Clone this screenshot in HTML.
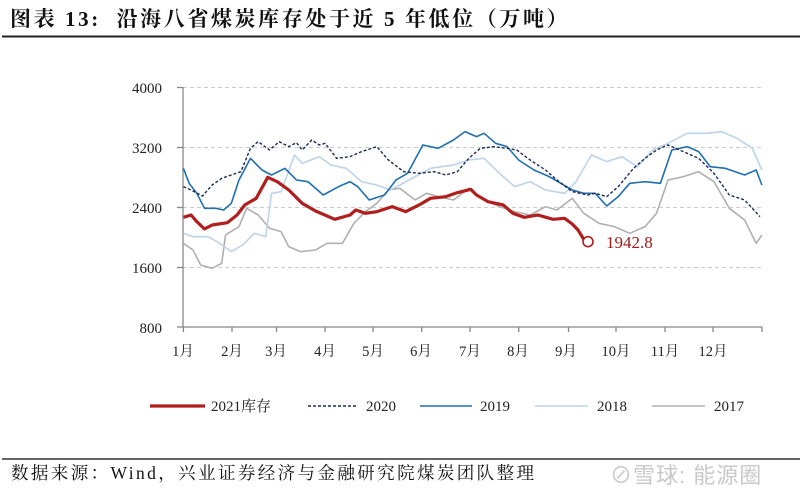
<!DOCTYPE html>
<html><head><meta charset="utf-8"><style>
body{margin:0;background:#fff;width:800px;height:502px;overflow:hidden;position:relative;font-family:"Liberation Serif","Noto Serif CJK SC",serif}
.t{position:absolute;left:10px;top:3px;font-size:21px;letter-spacing:2.6px;font-weight:bold;color:#111;white-space:nowrap}
.s{position:absolute;left:11px;top:460px;font-size:17.5px;letter-spacing:2.4px;color:#111;white-space:nowrap}
.w{position:absolute;left:610px;top:458px;font-size:22px;letter-spacing:1px;color:#c8c8c8;font-family:"Liberation Sans","Noto Sans CJK SC",sans-serif;white-space:nowrap}
</style></head><body>
<div class="t">图表 13:&nbsp; 沿海八省煤炭库存处于近 5 年低位（万吨）</div>
<div class="s">数据来源：Wind，兴业证券经济与金融研究院煤炭团队整理</div>
<div class="w">⊘雪球: 能源圈</div>
<svg width="800" height="502" style="position:absolute;left:0;top:0">
<line x1="2" y1="36.5" x2="800" y2="36.5" stroke="#222" stroke-width="2"/>
<line x1="2" y1="459" x2="800" y2="459" stroke="#333" stroke-width="1.5"/>
<g stroke="#ccc" stroke-dasharray="4,3" stroke-width="1">
<line x1="183" y1="87.5" x2="762" y2="87.5"/><line x1="183" y1="147.5" x2="762" y2="147.5"/>
<line x1="183" y1="207.5" x2="762" y2="207.5"/><line x1="183" y1="267.5" x2="762" y2="267.5"/>
</g>
<g stroke="#888" stroke-width="1.3">
<line x1="183" y1="87" x2="183" y2="327"/><line x1="183" y1="327" x2="762" y2="327"/>
<line x1="177" y1="87.5" x2="183" y2="87.5"/><line x1="177" y1="147.5" x2="183" y2="147.5"/><line x1="177" y1="207.5" x2="183" y2="207.5"/><line x1="177" y1="267.5" x2="183" y2="267.5"/><line x1="177" y1="327" x2="183" y2="327"/>
<path d="M183.4 327v5M232 327v5M276.5 327v5M325 327v5M373 327v5M421.7 327v5M470 327v5M518.7 327v5M568.5 327v5M616 327v5M665 327v5M713 327v5M762 327v5"/>
</g>
<g font-size="15" fill="#222" text-anchor="end">
<text x="162" y="93">4000</text><text x="162" y="153">3200</text><text x="162" y="213">2400</text><text x="162" y="273">1600</text><text x="162" y="333">800</text>
</g>
<g font-size="14.5" fill="#222" text-anchor="middle" font-family="Liberation Serif,Noto Serif CJK SC,serif">
<text x="183" y="356">1月</text><text x="232" y="356">2月</text><text x="276" y="356">3月</text><text x="325" y="356">4月</text><text x="373" y="356">5月</text><text x="421" y="356">6月</text><text x="470" y="356">7月</text><text x="518" y="356">8月</text><text x="566" y="356">9月</text><text x="616" y="356">10月</text><text x="665" y="356">11月</text><text x="713" y="356">12月</text>
</g>
<g transform="translate(170,80) scale(0.3831,0.3333)" fill="none" stroke-linejoin="round">
<polyline vector-effect="non-scaling-stroke" stroke="#b0b0b0" stroke-width="1.6" points="35,490 60,510 80,555 110,565 135,550 145,465 180,440 200,385 230,405 260,445 290,455 310,500 340,515 380,510 410,490 450,490 480,430 510,395 540,370 570,330 600,325 640,360 670,340 700,350 740,360 780,325 820,360 860,380 900,395 940,405 980,380 1010,390 1050,355 1080,400 1120,430 1160,440 1200,460 1240,440 1270,400 1300,300 1340,290 1380,275 1420,305 1460,385 1500,420 1530,490 1545,465"/>
<polyline vector-effect="non-scaling-stroke" stroke="#bcd3ea" stroke-width="1.6" points="35,460 60,470 100,470 130,490 160,515 190,495 220,460 250,470 265,340 290,335 325,225 345,250 390,230 420,255 460,265 500,305 540,315 575,330 600,315 640,290 680,265 740,255 780,240 820,235 860,280 900,320 940,305 980,330 1030,340 1060,305 1100,225 1140,245 1180,230 1220,260 1260,210 1300,190 1350,160 1400,160 1440,155 1480,175 1520,205 1545,270"/>
<polyline vector-effect="non-scaling-stroke" stroke="#1f6fb0" stroke-width="1.6" points="35,265 50,310 70,340 90,385 120,385 140,390 160,370 180,300 210,235 240,270 265,285 300,265 330,300 360,305 400,345 440,320 470,305 490,320 520,360 560,345 590,300 620,280 660,195 700,205 740,180 770,155 800,170 820,160 850,190 880,200 910,240 950,270 990,290 1050,330 1080,340 1110,340 1140,378 1170,350 1200,310 1240,305 1280,310 1310,210 1350,200 1380,215 1410,260 1450,265 1500,285 1530,270 1545,315"/>
<polyline vector-effect="non-scaling-stroke" stroke="#1a2a55" stroke-width="1.4" stroke-dasharray="3,2" points="35,320 55,330 85,348 110,315 135,295 160,285 185,275 210,205 230,185 260,210 285,185 310,200 330,188 345,210 370,180 390,195 405,190 435,235 470,230 500,215 540,200 570,240 610,275 650,280 690,275 720,285 750,275 780,235 810,205 845,200 880,205 905,210 940,240 980,270 1010,300 1050,335 1090,345 1110,340 1140,350 1170,320 1210,265 1240,235 1270,210 1300,195 1340,215 1380,235 1420,280 1460,345 1500,360 1540,410"/>
<polyline vector-effect="non-scaling-stroke" stroke="#b01e1e" stroke-width="3.2" points="35,412 55,405 70,425 90,447 110,435 150,428 175,405 195,375 225,355 255,292 280,305 310,330 345,370 380,393 430,418 470,405 485,390 510,400 540,395 580,380 615,395 650,375 680,355 720,350 750,338 785,328 800,345 830,365 870,375 895,400 925,412 960,405 1000,418 1030,415 1050,432 1065,450 1080,478 1092,485"/>
</g>
<circle cx="588" cy="241.7" r="5" fill="#fff" stroke="#b01e1e" stroke-width="1.6"/>
<text x="606" y="248" font-size="17" fill="#a01c1c">1942.8</text>
<g font-size="15" fill="#222">
<line x1="150" y1="406" x2="205" y2="406" stroke="#b01e1e" stroke-width="3.2"/><text x="211" y="411">2021库存</text>
<line x1="308" y1="406" x2="358" y2="406" stroke="#1a2a55" stroke-width="1.4" stroke-dasharray="3,2"/><text x="366" y="411">2020</text>
<line x1="420" y1="406" x2="472" y2="406" stroke="#1f6fb0" stroke-width="1.6"/><text x="480" y="411">2019</text>
<line x1="535" y1="406" x2="588" y2="406" stroke="#bcd3ea" stroke-width="1.6"/><text x="597" y="411">2018</text>
<line x1="652" y1="406" x2="705" y2="406" stroke="#b0b0b0" stroke-width="1.6"/><text x="714" y="411">2017</text>
</g>
</svg>
</body></html>
